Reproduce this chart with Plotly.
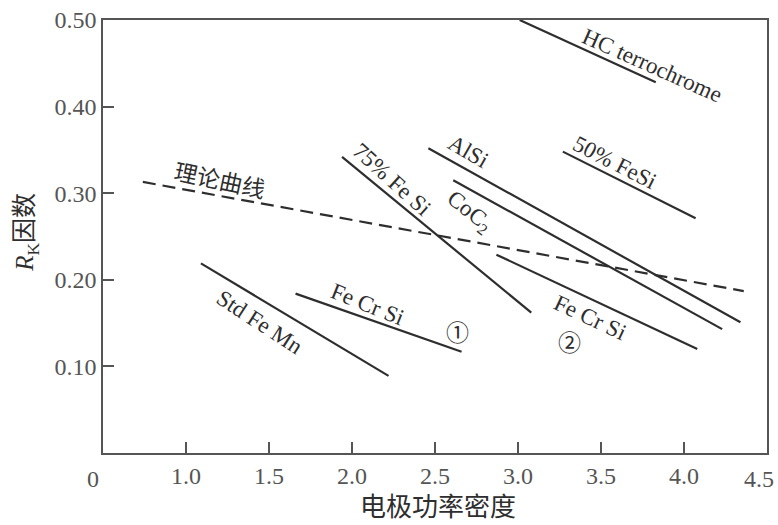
import plotly.graph_objects as go

# ---- data ----
series_names = ["HC terrochrome", "50% FeSi", "AlSi", "CoC2", "75% Fe Si",
                "Fe Cr Si 2", "Fe Cr Si 1", "Std Fe Mn"]
x_start = [3.01, 3.27, 2.46, 2.61, 1.94, 2.87, 1.66, 1.09]
x_end   = [3.83, 4.07, 4.34, 4.23, 3.08, 4.08, 2.66, 2.22]
y_start = [0.500, 0.348, 0.352, 0.315, 0.342, 0.229, 0.184, 0.219]
y_end   = [0.428, 0.271, 0.151, 0.143, 0.162, 0.120, 0.117, 0.089]

theory_x = [0.74, 4.36]
theory_y = [0.313, 0.187]

x_tickvals = [1.0, 1.5, 2.0, 2.5, 3.0, 3.5, 4.0]
x_ticktext = ["1.0", "1.5", "2.0", "2.5", "3.0", "3.5", "4.0"]
x_last_label = "4.5"
y_tickvals = [0.1, 0.2, 0.3, 0.4, 0.5]
y_ticktext = ["0.10", "0.20", "0.30", "0.40", "0.50"]

label_text  = ["理论曲线", "75% Fe Si", "AlSi", "CoC<sub>2</sub>", "50% FeSi",
               "HC terrochrome", "Fe Cr Si", "②", "Fe Cr Si", "①", "Std Fe Mn"]
label_x     = [1.205, 2.241, 2.699, 2.705, 3.584, 3.807, 3.434, 3.313, 2.096, 2.633, 1.446]
label_y     = [0.316, 0.316, 0.348, 0.278, 0.336, 0.447, 0.157, 0.129, 0.171, 0.141, 0.151]
label_angle = [12, 42, 30, 38, 27, 24, 25, 0, 22, 0, 33]

# ---- styling ----
INK = "#2e2e2e"
AX = "#555555"
SERIF = "Liberation Serif, Times New Roman, serif"
CJK = "Noto Sans CJK SC, sans-serif"

fig = go.Figure()

for i, name in enumerate(series_names):
    fig.add_trace(go.Scatter(
        x=[x_start[i], x_end[i]], y=[y_start[i], y_end[i]],
        mode="lines", name=name, line=dict(color=INK, width=2.2),
        hoverinfo="skip", showlegend=False, cliponaxis=True))

fig.add_trace(go.Scatter(
    x=theory_x, y=theory_y, mode="lines", name="理论曲线",
    line=dict(color=INK, width=2.2, dash="13px,7px"),
    hoverinfo="skip", showlegend=False))

for t, x, y, a in zip(label_text, label_x, label_y, label_angle):
    is_cjk = t in ("理论曲线", "①", "②")
    fig.add_annotation(
        x=x, y=y, xref="x", yref="y", text=t, showarrow=False,
        textangle=a, xanchor="center", yanchor="middle",
        font=dict(family=CJK if is_cjk else SERIF,
                  size=23, color=INK))

# corner "0"
fig.add_annotation(x=-0.015, y=-0.025, xref="paper", yref="paper", text="0",
                   showarrow=False, xanchor="center", yanchor="top",
                   font=dict(family=SERIF, size=24, color=AX))
# last x tick label, kept inside the page
fig.add_annotation(x=1.0, y=-0.025, xref="paper", yref="paper", text=x_last_label,
                   showarrow=False, xanchor="right", yanchor="top", xshift=9,
                   font=dict(family=SERIF, size=24, color=AX))

# axis titles
fig.add_annotation(x=0.504, y=-0.072, xref="paper", yref="paper",
                   text="电极功率密度", showarrow=False,
                   xanchor="center", yanchor="top",
                   font=dict(family=CJK, size=26, color=INK))
fig.add_annotation(x=-0.115, y=0.51, xref="paper", yref="paper",
                   text="<i>R</i><sub>K</sub>因数", showarrow=False, textangle=-90,
                   xanchor="center", yanchor="middle",
                   font=dict(family=SERIF + ", " + CJK, size=25, color=INK))

fig.update_xaxes(range=[0.5, 4.5], tickvals=x_tickvals, ticktext=x_ticktext,
                 ticks="inside", ticklen=11, tickwidth=1.5, tickcolor=AX,
                 showline=True, linecolor=AX, linewidth=1.5, mirror=True,
                 showgrid=False, zeroline=False, automargin=False,
                 tickfont=dict(family=SERIF, size=24, color=AX))
fig.update_yaxes(range=[0, 0.5], tickvals=y_tickvals, ticktext=y_ticktext,
                 ticks="inside", ticklen=11, tickwidth=1.5, tickcolor=AX,
                 showline=True, linecolor=AX, linewidth=1.5, mirror=True,
                 showgrid=False, zeroline=False, automargin=False,
                 ticklabeloverflow="allow",
                 tickfont=dict(family=SERIF, size=24, color=AX))

fig.update_layout(width=778, height=525,
                  margin=dict(l=103, r=11, t=20, b=72),
                  plot_bgcolor="white", paper_bgcolor="white",
                  showlegend=False)

fig.write_html("out.html", config={"displayModeBar": False},
               post_script="document.body.style.margin='0';"
                           "document.body.style.overflow='hidden';")
